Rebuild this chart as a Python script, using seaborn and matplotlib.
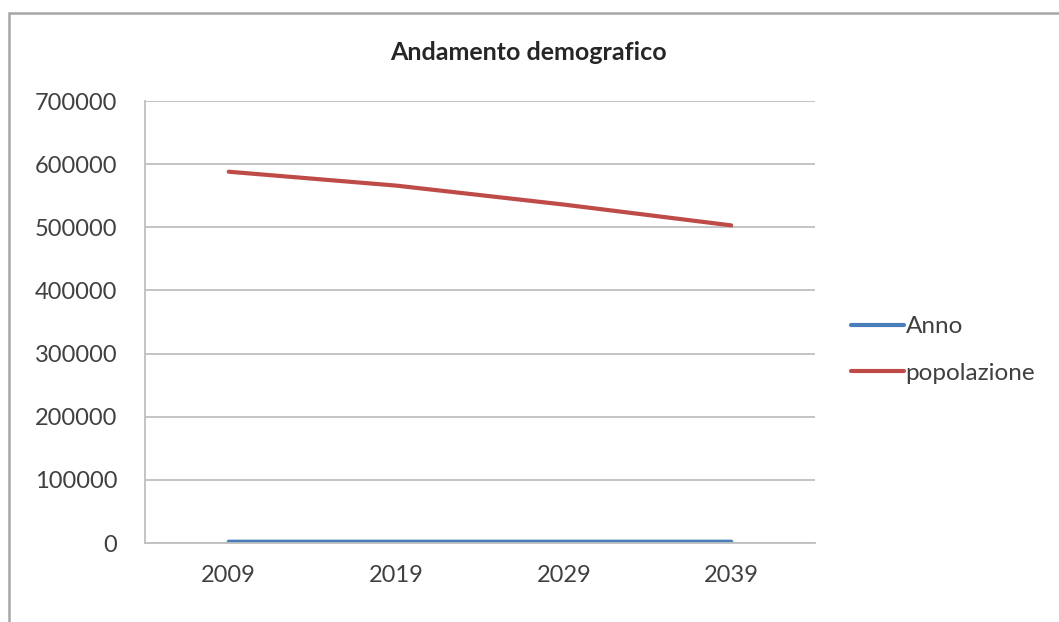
import pandas as pd
import matplotlib.pyplot as plt
import seaborn as sns
from matplotlib.patches import Rectangle

anni = ["2009", "2019", "2029", "2039"]
anno_values = [2009, 2019, 2029, 2039]
popolazione_values = [588000, 566000, 536000, 503000]
series_names = ["Anno", "popolazione"]
y_ticks = [0, 100000, 200000, 300000, 400000, 500000, 600000, 700000]

df = pd.DataFrame({
    "x": anni * 2,
    "value": anno_values + popolazione_values,
    "serie": [series_names[0]] * 4 + [series_names[1]] * 4,
})

sns.set_style("white")
plt.rcParams["font.family"] = ["Lato", "DejaVu Sans"]
text_color = "#404040"
grid_color = "#bfbfbf"

fig = plt.figure(figsize=(10.59, 6.22), dpi=100)
ax = fig.add_axes([145 / 1059, 1 - 543 / 622, 670 / 1059, 442 / 622])

sns.lineplot(data=df, x="x", y="value", hue="serie", sort=False,
             palette={"Anno": "#4a7ebb", "popolazione": "#be4b48"},
             linewidth=3.0, ax=ax, legend=True)

ax.set_xlim(-0.5, 3.5)
ax.set_ylim(0, 700000)
ax.set_yticks(y_ticks)
ax.set_yticklabels([str(v) for v in y_ticks])
ax.yaxis.grid(True, color=grid_color, linewidth=1.3)
ax.set_axisbelow(True)
ax.set_xlabel("")
ax.set_ylabel("")

for side in ["top", "right"]:
    ax.spines[side].set_visible(False)
for side in ["left", "bottom"]:
    ax.spines[side].set_color(grid_color)
    ax.spines[side].set_linewidth(1.3)

ax.tick_params(axis="y", length=2, width=1.3, color=grid_color, pad=18,
               labelsize=17, labelcolor=text_color)
ax.tick_params(axis="x", length=0, pad=16, labelsize=17, labelcolor=text_color)

fig.text(528 / 1059, 1 - 53 / 622, "Andamento demografico", ha="center", va="center",
         fontsize=18, fontweight="bold", color="#262626")

leg = ax.legend(loc="center left", bbox_to_anchor=(851 / 1059, 1 - 350 / 622),
                bbox_transform=fig.transFigure, frameon=False, fontsize=17.5,
                handlelength=2.2, handletextpad=0.05, labelspacing=1.05,
                labelcolor=text_color, borderaxespad=0, borderpad=0)
for line in leg.get_lines():
    line.set_linewidth(3.0)

fig.patches.append(Rectangle((9 / 1059, -0.1), 1.2, 1.1 - 13 / 622,
                             transform=fig.transFigure, fill=False,
                             edgecolor="#a6a6a6", linewidth=1.8))

fig.savefig("out.png", dpi=100)
